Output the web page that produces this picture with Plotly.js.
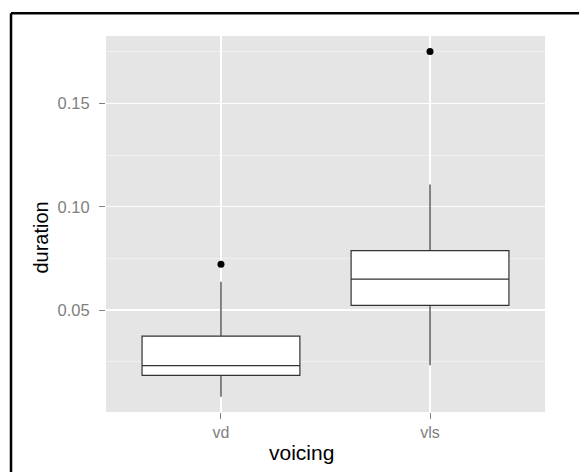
<!DOCTYPE html>
<html>
<head>
<meta charset="utf-8">
<script src="https://cdn.plot.ly/plotly-3.0.1.min.js"></script>
<style>
  html, body { margin: 0; padding: 0; background: #ffffff; }
  #chart { width: 579px; height: 472px; }
</style>
</head>
<body>
<div id="chart"></div>
<script>
// Categories
const voicing = ['vd', 'vls'];
// Box statistics (duration)
const lowerWhisker = [0.0081, 0.0233];
const q1Values     = [0.0184, 0.0523];
const medians      = [0.0231, 0.0650];
const q3Values     = [0.0374, 0.0788];
const upperWhisker = [0.0637, 0.1107];
// Outliers
const outlierCats   = ['vd', 'vls'];
const outlierValues = [0.0722, 0.1751];
// Axis ticks
const yTickVals = [0.05, 0.10, 0.15];
const yTickText = ['0.05', '0.10', '0.15'];

const boxTrace = {
  type: 'box',
  x: voicing,
  q1: q1Values,
  median: medians,
  q3: q3Values,
  lowerfence: lowerWhisker,
  upperfence: upperWhisker,
  boxpoints: false,
  width: 0.755,
  whiskerwidth: 0,
  fillcolor: '#ffffff',
  line: { color: '#333333', width: 1.2 },
  hoverinfo: 'skip',
  showlegend: false
};

const outlierTrace = {
  type: 'scatter',
  mode: 'markers',
  x: outlierCats,
  y: outlierValues,
  marker: { color: '#000000', size: 7 },
  hoverinfo: 'skip',
  showlegend: false
};

const greyText = '#7f7f7f';
const font = 'Liberation Sans, Arial, sans-serif';

const layout = {
  width: 579,
  height: 472,
  margin: { l: 106, r: 34, t: 36, b: 60 },
  paper_bgcolor: '#ffffff',
  plot_bgcolor: '#e5e5e5',
  showlegend: false,
  font: { family: font },
  xaxis: {
    type: 'category',
    categoryorder: 'array',
    categoryarray: voicing,
    range: [-0.55, 1.55],
    showgrid: true,
    gridcolor: '#ffffff',
    gridwidth: 1.2,
    zeroline: false,
    showline: false,
    ticks: 'outside',
    ticklen: 6,
    tickwidth: 1,
    tickcolor: greyText,
    tickfont: { size: 16, color: greyText, family: font },
    fixedrange: true
  },
  yaxis: {
    range: [0.0007, 0.1826],
    tickvals: yTickVals,
    ticktext: yTickText,
    showgrid: true,
    gridcolor: '#ffffff',
    gridwidth: 1.2,
    minor: { dtick: 0.025, tick0: 0.025, showgrid: true, gridcolor: '#f2f2f2', gridwidth: 0.8, ticks: '' },
    zeroline: false,
    showline: false,
    ticks: 'outside',
    ticklen: 6,
    tickwidth: 1,
    tickcolor: greyText,
    ticklabelstandoff: 6,
    tickfont: { size: 16.5, color: greyText, family: font },
    fixedrange: true
  },
  annotations: [
    {
      text: 'voicing', xref: 'paper', yref: 'paper',
      x: 0.4458, y: -0.1064, xanchor: 'center', yanchor: 'middle',
      showarrow: false, font: { size: 21, color: '#000000', family: font }
    },
    {
      text: 'duration', xref: 'paper', yref: 'paper',
      x: -0.148, y: 0.464, xanchor: 'center', yanchor: 'middle', textangle: -90,
      showarrow: false, font: { size: 20, color: '#000000', family: font }
    }
  ],
  shapes: [
    { type: 'line', xref: 'paper', yref: 'paper', x0: -0.2164, x1: 1.2, y0: 1.0604, y1: 1.0604,
      line: { color: '#000000', width: 2.5 } },
    { type: 'line', xref: 'paper', yref: 'paper', x0: -0.2164, x1: -0.2164, y0: 1.0604, y1: -0.2,
      line: { color: '#000000', width: 2.5 } }
  ]
};

Plotly.newPlot('chart', [boxTrace, outlierTrace], layout, { displayModeBar: false, staticPlot: true });
</script>
</body>
</html>
